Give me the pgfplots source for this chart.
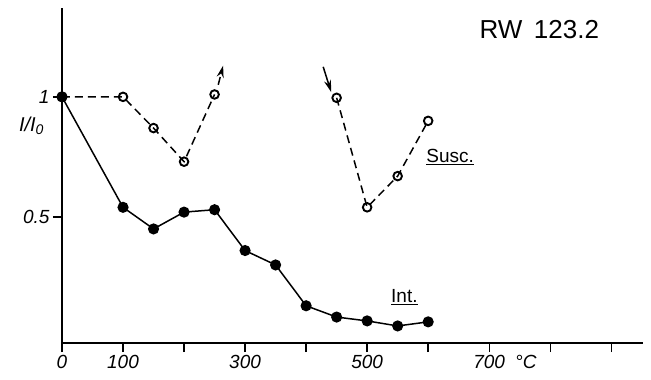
\documentclass[border=0pt]{standalone}
\usepackage{pgfplots}
\pgfplotsset{compat=1.18}
\usepackage{fontspec}
\setmainfont{Liberation Sans}
\usetikzlibrary{arrows.meta}
\begin{document}
\begin{tikzpicture}[x=1pt,y=1pt]
\path[use as bounding box] (-62,-37) rectangle (589,343);
\begin{axis}[at={(0,0)}, anchor=south west, scale only axis,
  width=581pt, height=335pt,
  xmin=0, xmax=952, ymin=-0.025, ymax=1.37,
  axis x line=bottom, axis y line=left,
  axis line style={line width=2pt, -},
  xtick={0,100,...,900},
  xticklabels={0,100,,300,,500,,700,,},
  ytick={0.5,1}, yticklabels={0.5,1},
  tick style={line width=1.4pt, black},
  major tick length=9pt, tick align=outside,
  /pgf/number format/assume math mode=true,
  ticklabel style={font=\fontsize{19}{21}\selectfont\itshape},
  clip=false]
\addplot[line width=1.5pt, dash pattern=on 8pt off 5pt, mark=o, mark size=4.3pt,
  mark options={solid, fill=white, line width=1.9pt}]
  coordinates {(0,1) (100,1) (150,0.87) (200,0.73) (250,1.01)};
\addplot[line width=1.5pt, dash pattern=on 8pt off 5pt, -{Stealth[length=12pt,width=7pt]}]
  coordinates {(256,1.05) (264,1.13)};
\addplot[line width=1.5pt, -{Stealth[length=12pt,width=7pt]}]
  coordinates {(428,1.125) (441,1.02)};
\addplot[line width=1.5pt, dash pattern=on 8pt off 5pt, mark=o, mark size=4.3pt,
  mark options={solid, fill=white, line width=1.9pt}]
  coordinates {(450,0.996) (500,0.54) (550,0.67) (600,0.90)};
\addplot[line width=1.5pt, mark=*, mark size=4.8pt]
  coordinates {(0,1) (100,0.54) (150,0.45) (200,0.52) (250,0.53) (300,0.36)
               (350,0.30) (400,0.13) (450,0.083) (500,0.067) (550,0.046) (600,0.063)};
\node at (axis cs:782,1.28) {\fontsize{26}{30}\selectfont RW\, 123.2};
\node at (axis cs:636,0.75) {\fontsize{19}{21}\selectfont\underline{Susc.}};
\node at (axis cs:561,0.165) {\fontsize{19}{21}\selectfont\underline{Int.}};
\node at (axis cs:-50,0.88) {\fontsize{20}{22}\selectfont\itshape I/I\textsubscript{0}};
\node at (axis cs:760,-0.104) {\fontsize{19}{21}\selectfont\itshape °C};
\end{axis}
\end{tikzpicture}
\end{document}
